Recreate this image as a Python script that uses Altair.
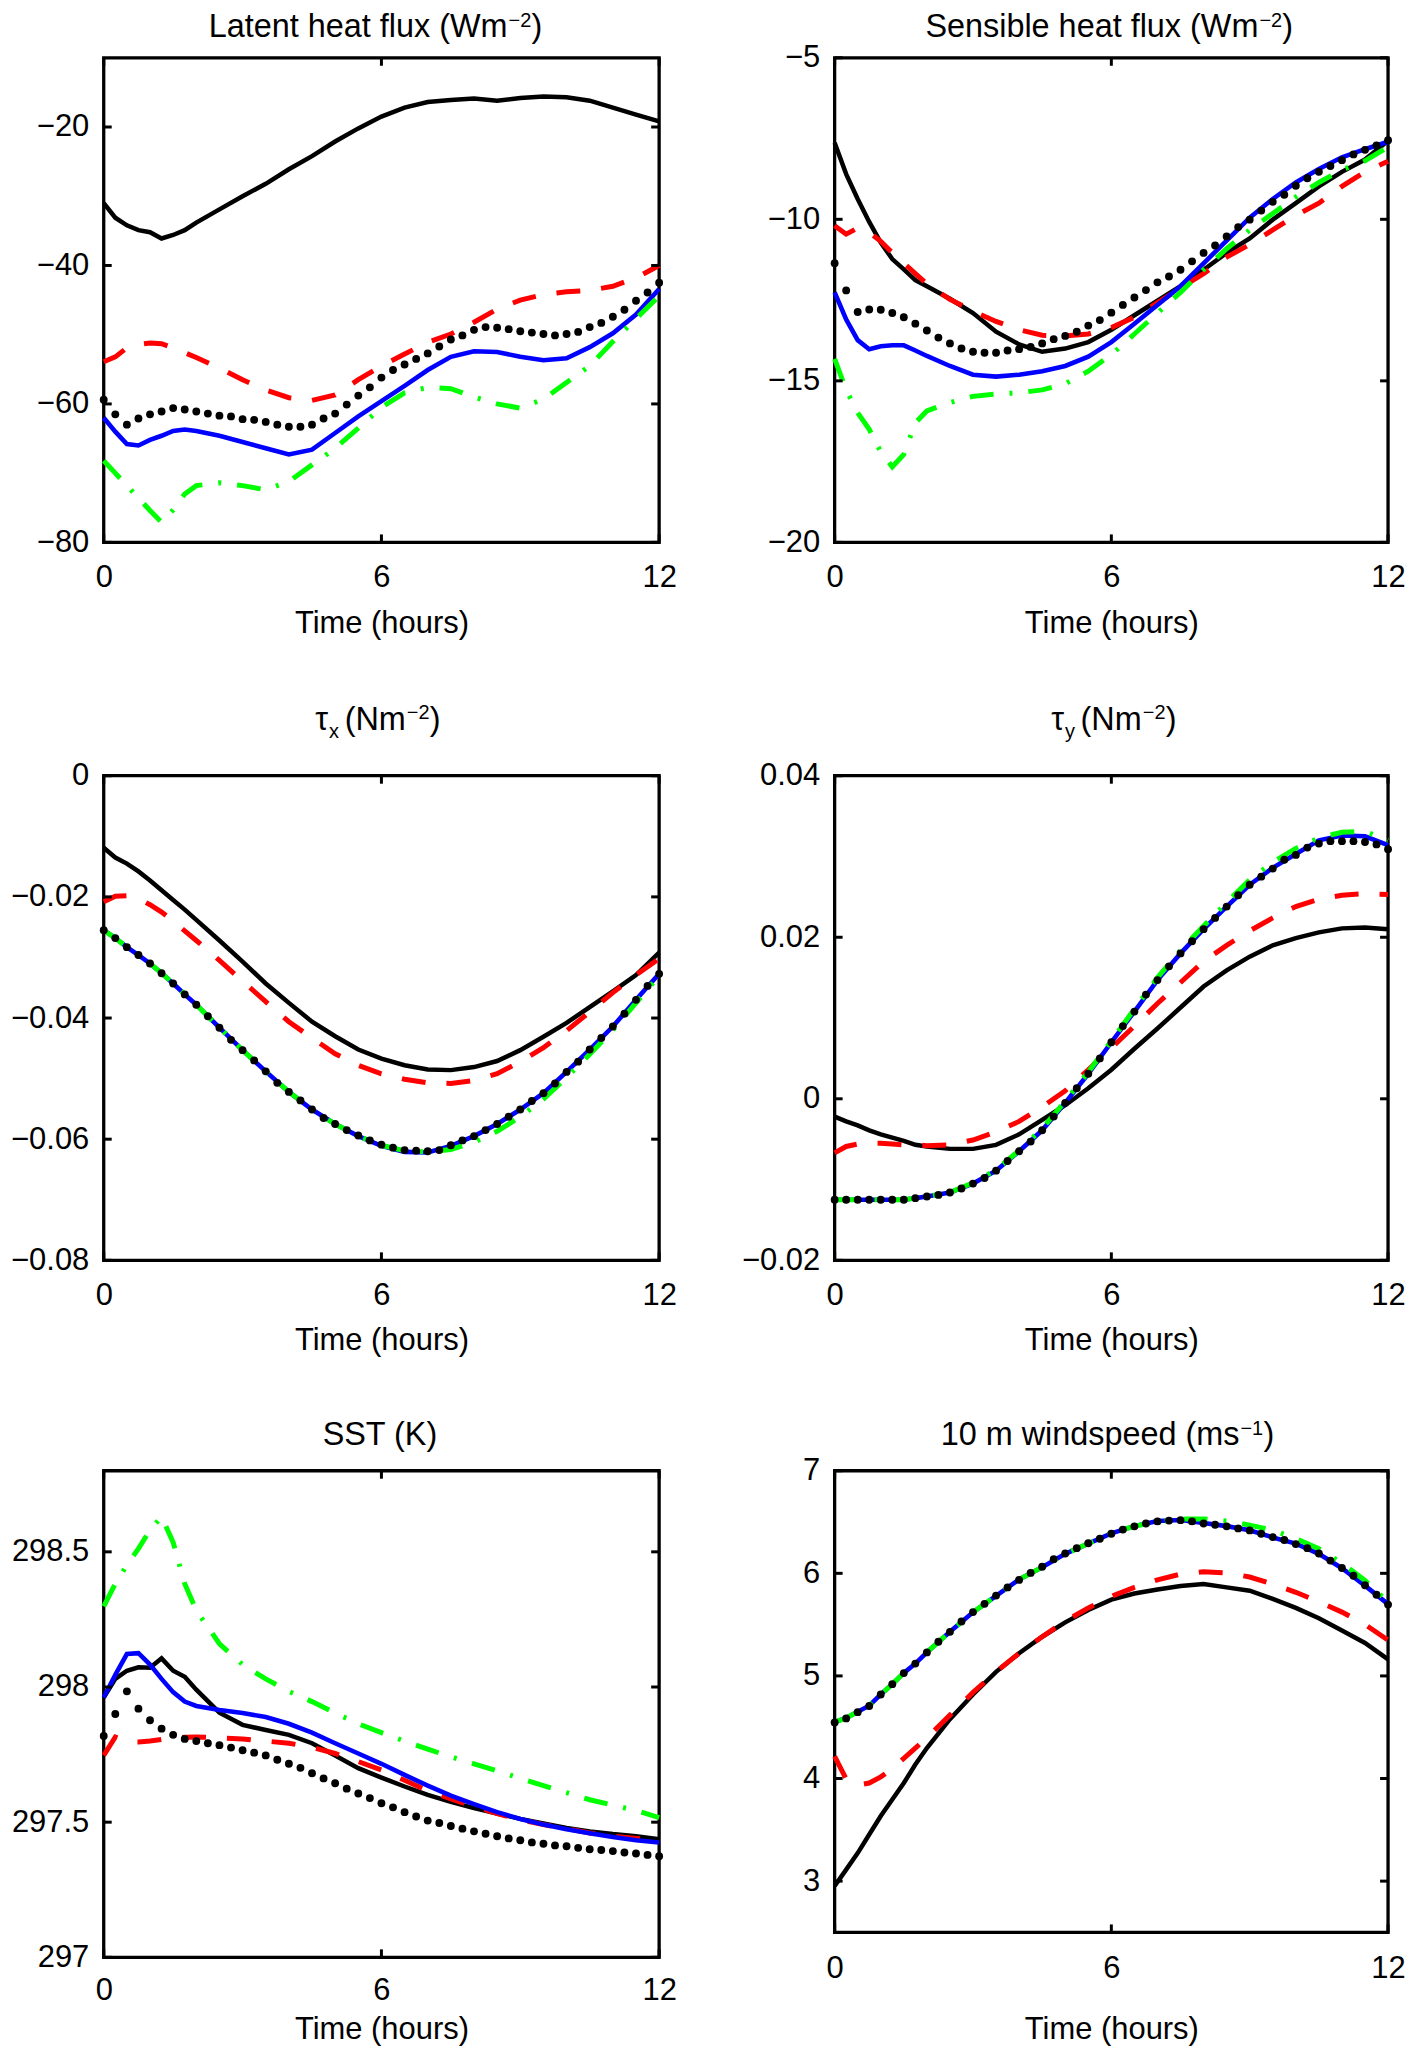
import altair as alt
import pandas as pd

FONT = "Liberation Sans"
FS = 31
TFS = 32.5
SFS = 20
WL = 557
WR = 555
H = 486

# ---------------- data ----------------
T_LINE = [0, 0.25, 0.5, 0.75, 1, 1.25, 1.5, 1.75, 2, 2.5, 3, 3.5, 4, 4.5, 5, 5.5, 6,
          6.5, 7, 7.5, 8, 8.5, 9, 9.5, 10, 10.5, 11, 11.5, 12]
T_DOT = [0, 0.25, 0.5, 0.75, 1, 1.25, 1.5, 1.75, 2, 2.25, 2.5, 2.75, 3, 3.25, 3.5, 3.75,
         4, 4.25, 4.5, 4.75, 5, 5.25, 5.5, 5.75, 6, 6.25, 6.5, 6.75, 7, 7.25, 7.5, 7.75,
         8, 8.25, 8.5, 8.75, 9, 9.25, 9.5, 9.75, 10, 10.25, 10.5, 10.75, 11, 11.25, 11.5,
         11.75, 12]
X_TICKS = [0, 6, 12]

# Latent heat flux
LH_YTICKS = [-80, -60, -40, -20]
LH_BLACK = [-31.0, -33.1, -34.2, -34.9, -35.2, -36.1, -35.6, -34.9, -33.8, -31.9, -30.0, -28.2,
            -26.1, -24.2, -22.1, -20.2, -18.5, -17.2, -16.4, -16.1, -15.9, -16.2, -15.8, -15.6,
            -15.7, -16.2, -17.2, -18.2, -19.2]
LH_RED = [-53.9, -53.2, -51.9, -51.4, -51.2, -51.3, -51.9, -52.6, -53.3, -54.8, -56.5, -58.0,
          -59.1, -59.5, -58.7, -56.5, -54.5, -52.8, -51.1, -49.9, -48.2, -46.3, -45.0, -44.2,
          -43.8, -43.6, -43.0, -41.8, -40.0]
LH_BLUE = [-62.0, -64.0, -65.8, -66.0, -65.2, -64.6, -63.9, -63.7, -63.9, -64.6, -65.5, -66.4,
           -67.3, -66.6, -64.2, -61.8, -59.6, -57.4, -55.1, -53.2, -52.4, -52.5, -53.2, -53.7,
           -53.4, -51.8, -49.8, -47.1, -43.4]
LH_GREEN = [-68.2, -70.0, -71.8, -73.6, -75.4, -77.1, -75.3, -73.0, -71.8, -71.4, -71.8, -72.4,
            -71.2, -68.8, -66.4, -63.5, -60.5, -58.4, -57.6, -57.8, -59.0, -60.0, -60.6, -59.3,
            -56.9, -54.5, -51.0, -47.7, -44.4]
LH_DOT = [-59.4, -61.5, -63.0, -62.1, -61.5, -61.1, -60.6, -60.8, -61.1, -61.4, -61.7, -61.8,
          -62.2, -62.3, -62.6, -63.0, -63.3, -63.3, -63.0, -62.1, -61.4, -60.1, -58.8, -57.6,
          -56.2, -55.1, -54.3, -53.5, -52.7, -51.7, -50.7, -50.1, -49.3, -48.9, -49.0, -49.2,
          -49.5, -49.7, -49.9, -50.1, -49.9, -49.6, -48.9, -48.3, -47.4, -46.4, -45.1, -43.9,
          -42.5]

# Sensible heat flux
SH_YTICKS = [-20, -15, -10, -5]
SH_BLACK = [-7.63, -8.6, -9.37, -10.08, -10.72, -11.23, -11.55, -11.88, -12.07, -12.46, -12.9,
            -13.48, -13.87, -14.1, -14.0, -13.8, -13.42, -12.97, -12.52, -12.07, -11.56, -11.04,
            -10.59, -10.01, -9.5, -8.98, -8.53, -8.15, -7.57]
SH_RED = [-10.2, -10.46, -10.27, -10.4, -10.68, -11.04, -11.36, -11.68, -12.0, -12.48, -12.84,
          -13.16, -13.42, -13.59, -13.61, -13.55, -13.35, -13.03, -12.58, -12.13, -11.68, -11.17,
          -10.78, -10.33, -9.88, -9.5, -8.98, -8.53, -8.2]
SH_BLUE = [-12.26, -13.1, -13.74, -14.02, -13.93, -13.9, -13.9, -14.06, -14.23, -14.54, -14.81,
           -14.87, -14.81, -14.7, -14.54, -14.25, -13.8, -13.23, -12.65, -12.07, -11.36, -10.66,
           -9.95, -9.37, -8.86, -8.44, -8.08, -7.83, -7.6]
SH_GREEN = [-14.32, -15.28, -15.99, -16.5, -17.2, -17.66, -17.28, -16.3, -15.93, -15.67, -15.48,
            -15.41, -15.37, -15.28, -15.09, -14.7, -14.19, -13.55, -12.9, -12.26, -11.56, -10.91,
            -10.33, -9.82, -9.31, -8.86, -8.47, -8.19, -7.76]
SH_DOT = [-11.36, -12.2, -12.87, -12.79, -12.8, -12.9, -13.03, -13.23, -13.44, -13.66, -13.84,
          -14.0, -14.1, -14.13, -14.13, -14.06, -14.02, -13.95, -13.84, -13.71, -13.61, -13.48,
          -13.29, -13.12, -12.89, -12.65, -12.42, -12.19, -11.95, -11.77, -11.56, -11.3, -11.04,
          -10.81, -10.53, -10.24, -10.01, -9.73, -9.46, -9.24, -8.96, -8.73, -8.53, -8.35,
          -8.17, -7.99, -7.85, -7.71, -7.55]

# tau_x
TX_YTICKS = [-0.08, -0.06, -0.04, -0.02, 0]
TX_BLACK = [-0.0119, -0.0135, -0.0145, -0.0158, -0.0173, -0.0189, -0.0205, -0.0221, -0.0238,
            -0.0272, -0.0307, -0.0343, -0.0375, -0.0406, -0.0430, -0.0452, -0.0467, -0.0478,
            -0.0485, -0.0486, -0.0481, -0.0471, -0.0453, -0.0431, -0.0408, -0.0382, -0.0356,
            -0.0329, -0.0292]
TX_RED = [-0.0208, -0.0199, -0.0198, -0.0203, -0.0213, -0.0225, -0.0240, -0.0256, -0.0272,
          -0.0305, -0.0339, -0.0373, -0.0406, -0.0433, -0.0459, -0.0478, -0.0492, -0.0501,
          -0.0507, -0.0508, -0.0503, -0.0492, -0.0472, -0.0449, -0.0421, -0.0390, -0.0358,
          -0.0329, -0.0302]
TX_BLUE = [-0.0255, -0.0268, -0.0283, -0.0296, -0.0310, -0.0326, -0.0343, -0.0361, -0.0378,
           -0.0416, -0.0453, -0.0488, -0.0522, -0.0551, -0.0575, -0.0595, -0.0611, -0.0621,
           -0.0622, -0.0611, -0.0595, -0.0575, -0.0551, -0.0524, -0.0489, -0.0452, -0.0414,
           -0.0370, -0.0327]
TX_GREEN = [-0.0255, -0.0268, -0.0283, -0.0296, -0.0310, -0.0326, -0.0343, -0.0361, -0.0378,
            -0.0416, -0.0453, -0.0488, -0.0522, -0.0551, -0.0575, -0.0595, -0.0610, -0.0619,
            -0.0621, -0.0617, -0.0605, -0.0587, -0.0563, -0.0534, -0.0498, -0.0460, -0.0420,
            -0.0375, -0.0330]
TX_DOT = [-0.0255, -0.0268, -0.0283, -0.0296, -0.0310, -0.0326, -0.0343, -0.0361, -0.0378,
          -0.0397, -0.0416, -0.0436, -0.0453, -0.0470, -0.0488, -0.0507, -0.0522, -0.0536,
          -0.0551, -0.0565, -0.0575, -0.0585, -0.0594, -0.0602, -0.0609, -0.0614, -0.0618,
          -0.0619, -0.0620, -0.0618, -0.0610, -0.0602, -0.0595, -0.0585, -0.0575, -0.0563,
          -0.0551, -0.0537, -0.0524, -0.0508, -0.0489, -0.0472, -0.0452, -0.0433, -0.0414,
          -0.0393, -0.0370, -0.0347, -0.0327]

# tau_y
TY_YTICKS = [-0.02, 0, 0.02, 0.04]
TY_BLACK = [-0.0022, -0.0028, -0.0033, -0.0039, -0.0044, -0.0048, -0.0052, -0.0057, -0.0059,
            -0.0062, -0.0062, -0.0057, -0.0044, -0.0026, -0.0008, 0.0013, 0.0036, 0.0062,
            0.0087, 0.0113, 0.0139, 0.0159, 0.0176, 0.0190, 0.0199, 0.0206, 0.0211, 0.0212,
            0.0210]
TY_RED = [-0.0067, -0.0059, -0.0056, -0.0055, -0.0055, -0.0056, -0.0057, -0.0057, -0.0058,
          -0.0057, -0.0051, -0.0041, -0.0028, -0.0010, 0.0010, 0.0036, 0.0063, 0.0090, 0.0118,
          0.0144, 0.0170, 0.0190, 0.0208, 0.0224, 0.0238, 0.0247, 0.0252, 0.0254, 0.0253]
TY_BLUE = [-0.0125, -0.0125, -0.0125, -0.0125, -0.0125, -0.0125, -0.0125, -0.0123, -0.0121,
           -0.0116, -0.0105, -0.0089, -0.0065, -0.0039, -0.0005, 0.0031, 0.0070, 0.0108,
           0.0147, 0.0180, 0.0210, 0.0238, 0.0265, 0.0286, 0.0303, 0.0320, 0.0326, 0.0325,
           0.0314]
TY_GREEN = [-0.0125, -0.0125, -0.0125, -0.0125, -0.0125, -0.0125, -0.0125, -0.0123, -0.0121,
            -0.0116, -0.0104, -0.0088, -0.0064, -0.0037, -0.0003, 0.0033, 0.0072, 0.0111,
            0.0150, 0.0184, 0.0214, 0.0243, 0.0271, 0.0293, 0.0310, 0.0323, 0.0330, 0.0331,
            0.0320]
TY_DOT = [-0.0125, -0.0125, -0.0125, -0.0125, -0.0125, -0.0125, -0.0125, -0.0123, -0.0121,
          -0.0119, -0.0116, -0.0111, -0.0105, -0.0098, -0.0089, -0.0077, -0.0065, -0.0053,
          -0.0039, -0.0022, -0.0005, 0.0013, 0.0031, 0.0050, 0.0070, 0.0090, 0.0108, 0.0129,
          0.0147, 0.0164, 0.0180, 0.0195, 0.0210, 0.0224, 0.0238, 0.0252, 0.0265, 0.0275,
          0.0285, 0.0296, 0.0302, 0.0311, 0.0316, 0.0319, 0.0319, 0.0319, 0.0318, 0.0315,
          0.0309]

# SST
SST_YTICKS = [297, 297.5, 298, 298.5]
SST_BLACK = [297.961, 298.03, 298.06, 298.073, 298.071, 298.106, 298.06, 298.038, 297.99,
             297.905, 297.86, 297.841, 297.823, 297.792, 297.747, 297.7, 297.665, 297.632,
             297.601, 297.575, 297.552, 297.532, 297.512, 297.495, 297.479, 297.466, 297.456,
             297.448, 297.437]
SST_RED = [297.747, 297.815, 297.797, 297.797, 297.8, 297.806, 297.812, 297.814, 297.815,
           297.812, 297.808, 297.8, 297.792, 297.777, 297.754, 297.724, 297.693, 297.655,
           297.616, 297.586, 297.558, 297.532, 297.509, 297.491, 297.476, 297.46, 297.448,
           297.44, 297.433]
SST_BLUE = [297.961, 298.045, 298.122, 298.125, 298.083, 298.03, 297.981, 297.946, 297.93,
            297.915, 297.904, 297.889, 297.864, 297.831, 297.792, 297.754, 297.716, 297.675,
            297.635, 297.598, 297.567, 297.537, 297.512, 297.491, 297.474, 297.459, 297.445,
            297.433, 297.425]
SST_GREEN = [298.298, 298.382, 298.451, 298.512, 298.581, 298.63, 298.535, 298.382, 298.283,
             298.16, 298.083, 298.03, 297.984, 297.946, 297.904, 297.864, 297.831, 297.8,
             297.77, 297.742, 297.716, 297.69, 297.662, 297.635, 297.609, 297.583, 297.563,
             297.543, 297.517]
SST_DOT = [297.819, 297.9, 297.984, 297.92, 297.877, 297.846, 297.823, 297.808, 297.8, 297.792,
           297.785, 297.776, 297.766, 297.757, 297.747, 297.731, 297.716, 297.701, 297.681,
           297.662, 297.644, 297.624, 297.606, 297.589, 297.57, 297.555, 297.537, 297.521,
           297.506, 297.497, 297.486, 297.476, 297.466, 297.457, 297.448, 297.44, 297.433,
           297.425, 297.42, 297.414, 297.411, 297.405, 297.4, 297.397, 297.393, 297.388,
           297.384, 297.379, 297.374]

# 10 m windspeed
WS_YTICKS = [3, 4, 5, 6, 7]
WS_BLACK = [2.952, 3.112, 3.273, 3.454, 3.635, 3.795, 3.956, 4.137, 4.297, 4.578, 4.819, 5.04,
            5.221, 5.382, 5.522, 5.643, 5.743, 5.803, 5.843, 5.876, 5.896, 5.863, 5.831, 5.751,
            5.663, 5.562, 5.442, 5.321, 5.161]
WS_RED = [4.217, 3.996, 3.936, 3.956, 4.016, 4.096, 4.197, 4.297, 4.398, 4.618, 4.839, 5.04,
          5.221, 5.382, 5.534, 5.663, 5.775, 5.863, 5.936, 5.992, 6.016, 6.004, 5.964, 5.896,
          5.815, 5.723, 5.622, 5.502, 5.349]
WS_BLUE = [4.55, 4.59, 4.65, 4.71, 4.82, 4.92, 5.03, 5.12, 5.23, 5.43, 5.62, 5.78, 5.94, 6.06,
           6.19, 6.29, 6.39, 6.46, 6.51, 6.52, 6.49, 6.46, 6.42, 6.35, 6.29, 6.19, 6.05, 5.88,
           5.70]
WS_GREEN = [4.55, 4.59, 4.65, 4.71, 4.82, 4.92, 5.03, 5.12, 5.23, 5.43, 5.62, 5.78, 5.94, 6.06,
            6.19, 6.29, 6.39, 6.46, 6.50, 6.53, 6.53, 6.51, 6.47, 6.42, 6.34, 6.24, 6.10, 5.93,
            5.72]
WS_DOT = [4.546, 4.586, 4.647, 4.707, 4.819, 4.92, 5.028, 5.12, 5.229, 5.333, 5.43, 5.53, 5.622,
          5.703, 5.783, 5.863, 5.936, 6.004, 6.064, 6.137, 6.193, 6.245, 6.293, 6.337, 6.386,
          6.426, 6.458, 6.486, 6.506, 6.514, 6.518, 6.506, 6.486, 6.474, 6.458, 6.438, 6.418,
          6.386, 6.353, 6.325, 6.285, 6.245, 6.193, 6.124, 6.052, 5.976, 5.884, 5.791, 5.695]

# ---------------- chart ----------------
ONE = pd.DataFrame({"k": [0]})
LABEL_EXPR = "format(datum.value, '.6~r')"


def txt(text, x, y, size=TFS, align="left"):
    return alt.Chart(ONE).mark_text(
        text=text, font=FONT, fontSize=size, align=align, baseline="alphabetic", color="black"
    ).encode(x=alt.value(x), y=alt.value(y))


def spacer(w, h):
    return alt.Chart(ONE).mark_point(opacity=0).encode(
        x=alt.value(0), y=alt.value(0)
    ).properties(width=w, height=h, view=alt.ViewBackground(strokeOpacity=0, strokeWidth=0))


def panel(p):
    h = p["h"]
    W = p["w"]
    xs = alt.Scale(domain=[0, 12], nice=False, zero=False)
    ys = alt.Scale(domain=p["ydom"], nice=False, zero=False)
    xe = alt.X("t:Q", scale=xs,
               axis=alt.Axis(values=X_TICKS, labelExpr=LABEL_EXPR, title="Time (hours)",
                             labelPadding=p["lp"], titlePadding=p["tp"],
                             labelFlush=False, labelOverlap=False))
    ye = alt.Y("v:Q", scale=ys,
               axis=alt.Axis(values=p["yticks"], labelExpr=LABEL_EXPR, title=None,
                             labelPadding=15, labelFlush=False, labelOverlap=False))
    layers = []
    styles = [("#000000", p["black"], 4.5, None),
              ("#ff0000", p["red"], 5.0, [24, 21]),
              ("#0000ff", p["blue"], 4.6, None),
              ("#00ff00", p["green"], 5.0, [24, 16, 3, 16])]
    for color, vals, sw, dash in styles:
        df = pd.DataFrame({"t": T_LINE, "v": vals})
        kw = dict(color=color, strokeWidth=sw)
        if dash:
            kw["strokeDash"] = dash
        layers.append(alt.Chart(df).mark_line(**kw).encode(x=xe, y=ye))
    ddf = pd.DataFrame({"t": T_DOT, "v": p["dots"]})
    layers.append(alt.Chart(ddf).mark_circle(color="black", size=62, opacity=1).encode(x=xe, y=ye))
    ytdf = pd.DataFrame({"v": p["yticks"]})
    for x1, x2 in [(0, 8), (W - 8, W)]:
        layers.append(alt.Chart(ytdf).mark_rule(color="black", strokeWidth=3).encode(
            y=ye, x=alt.value(x1), x2=alt.value(x2)))
    xtdf = pd.DataFrame({"t": X_TICKS})
    for y1, y2 in [(0, 8), (h - 8, h)]:
        layers.append(alt.Chart(xtdf).mark_rule(color="black", strokeWidth=3).encode(
            x=xe, y=alt.value(y1), y2=alt.value(y2)))
    t = p["title"]
    if t[0] == "tau":
        xa, xb = t[2], t[3]
        layers.append(txt("τ", xa, -46, align="right"))
        layers.append(txt(t[1], xa + 1, -38, size=SFS))
        layers.append(txt("(Nm", xb, -46, align="right"))
        layers.append(txt("−2", xb + 1, -57, size=SFS))
        layers.append(txt(")", xb + 24, -46))
    elif t[1] is None:
        layers.append(txt(t[0], t[3], p["tb"], align="center"))
    else:
        xr = t[3]
        layers.append(txt(t[0], xr, p["tb"], align="right"))
        layers.append(txt(t[1], xr + 1, p["tb"] - 10, size=SFS))
        layers.append(txt(t[2], xr + 24, p["tb"]))
    return alt.layer(*layers).properties(width=W, height=h)


P = [
    dict(ydom=[-80, -10], yticks=LH_YTICKS, black=LH_BLACK, red=LH_RED, blue=LH_BLUE,
         green=LH_GREEN, dots=LH_DOT, h=H, w=WL, lp=20, tp=16, tb=-21,
         title=("Latent heat flux (Wm", "−2", ")", 405)),
    dict(ydom=[-20, -5], yticks=SH_YTICKS, black=SH_BLACK, red=SH_RED, blue=SH_BLUE,
         green=SH_GREEN, dots=SH_DOT, h=H, w=WR, lp=20, tp=16, tb=-21,
         title=("Sensible heat flux (Wm", "−2", ")", 425)),
    dict(ydom=[-0.08, 0], yticks=TX_YTICKS, black=TX_BLACK, red=TX_RED, blue=TX_BLUE,
         green=TX_GREEN, dots=TX_DOT, h=H, w=WL, lp=20, tp=15,
         title=("tau", "x", 225, 303)),
    dict(ydom=[-0.02, 0.04], yticks=TY_YTICKS, black=TY_BLACK, red=TY_RED, blue=TY_BLUE,
         green=TY_GREEN, dots=TY_DOT, h=H, w=WR, lp=20, tp=15,
         title=("tau", "y", 230, 308)),
    dict(ydom=[297, 298.8], yticks=SST_YTICKS, black=SST_BLACK, red=SST_RED, blue=SST_BLUE,
         green=SST_GREEN, dots=SST_DOT, h=488, w=WL, lp=18, tp=9, tb=-26,
         title=("SST (K)", None, None, 277)),
    dict(ydom=[2.5, 7], yticks=WS_YTICKS, black=WS_BLACK, red=WS_RED, blue=WS_BLUE,
         green=WS_GREEN, dots=WS_DOT, h=463, w=WR, lp=21, tp=31, tb=-26,
         title=("10 m windspeed (ms", "−1", ")", 406)),
]

panels = [panel(p) for p in P]
GAP12 = 234
GAP23 = 211
cells = [panels[0], panels[1],
         spacer(WL, GAP12), spacer(WR, GAP12),
         panels[2], panels[3],
         spacer(WL, GAP23), spacer(WR, GAP23),
         panels[4], panels[5]]

chart = alt.concat(
    *cells, columns=2, align="each", bounds="flush",
    spacing={"row": 0, "column": 176}
).properties(
    padding={"top": -2, "left": 0, "right": -1, "bottom": 0}, background="white"
).configure_view(
    stroke="black", strokeWidth=3.3
).configure_axis(
    domain=False, ticks=False, grid=False,
    labelFont=FONT, labelFontSize=FS, labelColor="black",
    titleFont=FONT, titleFontSize=FS, titleFontWeight="normal", titleColor="black"
)

chart.save("out.html", embed_options={"renderer": "svg", "actions": False})
